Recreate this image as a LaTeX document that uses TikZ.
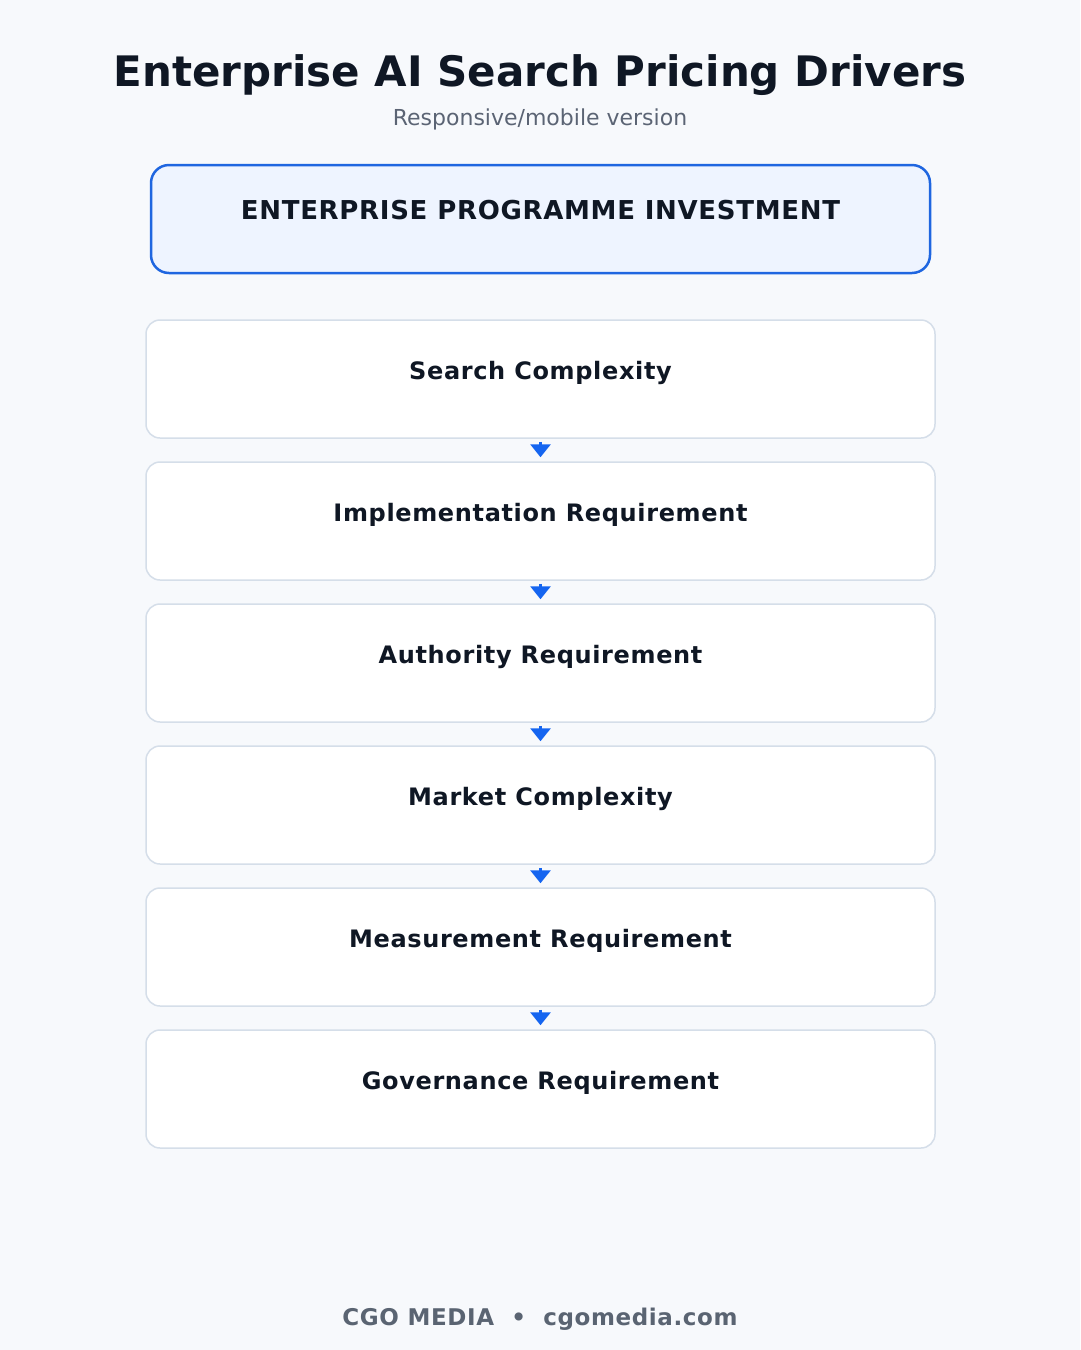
\documentclass[tikz,border=0pt]{standalone}
\usepackage{fontspec}
\setmainfont{DejaVu Sans}
\newfontfamily\spacedfont[LetterSpace=2.7]{DejaVu Sans}
\usetikzlibrary{arrows.meta}
\definecolor{bgc}{HTML}{F7F9FC}
\definecolor{titlec}{HTML}{0F1724}
\definecolor{subc}{HTML}{5B6474}
\definecolor{footc}{HTML}{5A6472}
\definecolor{topfill}{HTML}{EEF4FF}
\definecolor{topdraw}{HTML}{1F66E0}
\definecolor{boxdraw}{HTML}{D5DEE9}
\definecolor{arrc}{HTML}{1565F0}
\tikzset{
  topbox/.style={draw=topdraw, line width=2.5pt, fill=topfill, rounded corners=18pt,
    minimum width=779pt, minimum height=108pt, inner sep=0pt},
  drvbox/.style={draw=boxdraw, line width=1.5pt, fill=white, rounded corners=14pt,
    minimum width=789pt, minimum height=118pt, inner sep=0pt},
  lbl/.style={anchor=base, inner sep=0pt, text=titlec, font=\spacedfont\fontsize{24}{28}\selectfont\bfseries},
  arr/.style={draw=arrc, line width=3pt, -{Triangle[width=20pt,length=13pt]}},
}
\begin{document}
\begin{tikzpicture}[x=1pt,y=-1pt]
\fill[bgc] (0,0) rectangle (1080,1350);
\useasboundingbox (0,0) rectangle (1080,1350);
\node[anchor=base, inner sep=0pt, text=titlec, font=\fontsize{42}{48}\selectfont\bfseries] (title) at (540,86) {Enterprise AI Search Pricing Drivers};
\node[anchor=base, inner sep=0pt, text=subc, font=\fontsize{22}{26}\selectfont] (sub) at (540,125) {Responsive/mobile version};
\node[topbox] (top) at (540.5,219) {};
\node[lbl, font=\spacedfont\fontsize{26}{30}\selectfont\bfseries] (toplbl) at ([yshift=-56pt]top.north) {ENTERPRISE PROGRAMME INVESTMENT};
\foreach \i/\t in {1/Search Complexity,2/Implementation Requirement,3/Authority Requirement,4/Market Complexity,5/Measurement Requirement,6/Governance Requirement}{
  \node[drvbox] (b\i) at (540.5,{379+142*(\i-1)}) {};
  \node[lbl] (l\i) at ([yshift=-60pt]b\i.north) {\t};
}
\foreach \i/\j in {1/2,2/3,3/4,4/5,5/6}{
  \draw[arr] ([yshift=-3pt]b\i.south) -- ([yshift=4pt]b\j.north);
}
\node[anchor=base, inner sep=0pt, text=footc, font=\spacedfont\fontsize{23}{28}\selectfont\bfseries] (foot) at (540,1325) {CGO MEDIA \ \textbullet\ \ cgomedia.com};
\end{tikzpicture}
\end{document}
